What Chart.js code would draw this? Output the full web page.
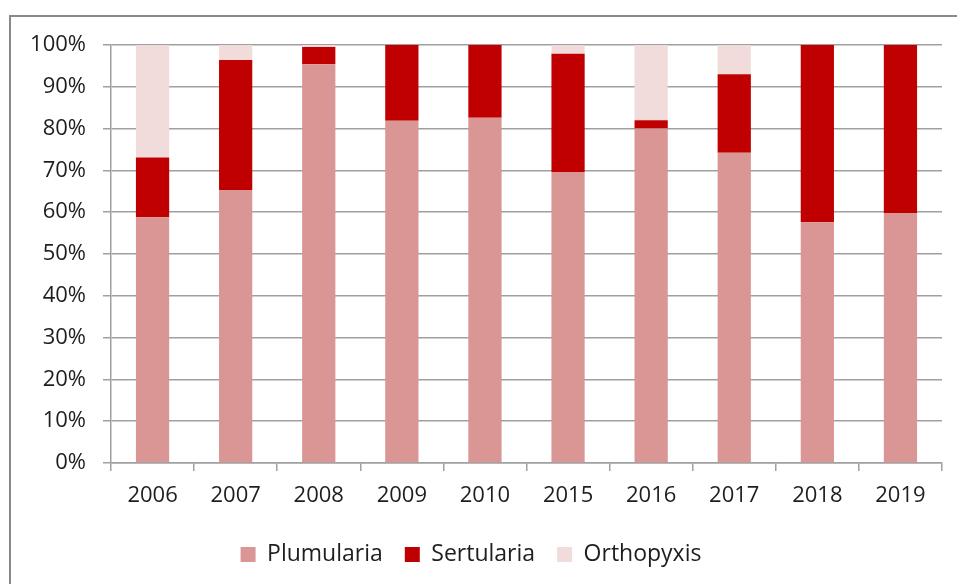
<!DOCTYPE html>
<html>
<head>
  <meta charset="UTF-8">
  <title>Plumularia / Sertularia / Orthopyxis</title>
  <script src="https://cdn.jsdelivr.net/npm/chart.js"></script>
  <style>
    body { margin: 0; background: #fff; overflow: hidden; }
    #frame { position: absolute; left: 9px; top: 15px; width: 1000px; height: 700px;
             border-top: 2px solid #898989; border-left: 2px solid #898989; }
    #wrap { position: absolute; left: 0; top: 0; width: 957px; height: 584px; }
  </style>
</head>
<body>
  <div id="frame"></div>
  <div id="wrap"><canvas id="chart" width="957" height="584"></canvas></div>

  <script>
    // share of each genus per year (%)
    const years = ['2006', '2007', '2008', '2009', '2010', '2015', '2016', '2017', '2018', '2019'];
    const plumularia = [58.8, 65.3, 95.4, 81.9, 82.6, 69.6, 80.0, 74.2, 57.6, 59.8];
    const sertularia = [14.3, 31.1, 4.1, 18.1, 17.4, 28.3, 2.0, 18.8, 42.4, 40.2];
    const orthopyxis = [26.9, 3.6, 0.5, 0, 0, 2.1, 18.0, 7.0, 0, 0];

    const gridColor = '#a0a0a0';
    const textColor = '#1e1e1e';
    Chart.defaults.font.family = '"Open Sans", sans-serif';
    Chart.defaults.font.size = 22;
    Chart.defaults.color = textColor;

    new Chart(document.getElementById('chart'), {
      type: 'bar',
      data: {
        labels: years,
        datasets: [
          { label: 'Plumularia', data: plumularia, backgroundColor: '#d99694' },
          { label: 'Sertularia', data: sertularia, backgroundColor: '#c00000' },
          { label: 'Orthopyxis', data: orthopyxis, backgroundColor: '#f2dcdb' }
        ]
      },
      options: {
        responsive: false,
        animation: false,
        datasets: { bar: { categoryPercentage: 1, barPercentage: 0.4 } },
        layout: { padding: { top: 45, right: 15, left: 0, bottom: 8 } },
        plugins: {
          tooltip: { enabled: false },
          legend: {
            position: 'bottom',
            labels: { boxWidth: 15, boxHeight: 15, padding: 22, color: textColor, font: { size: 23 } }
          }
        },
        scales: {
          x: {
            stacked: true,
            afterFit: s => { s.height = 58; },
            grid: { drawOnChartArea: false, color: gridColor, lineWidth: 1.5, tickLength: 8 },
            border: { color: gridColor, width: 1.5 },
            ticks: { padding: 12 }
          },
          y: {
            stacked: true,
            min: 0,
            max: 100,
            afterFit: s => { s.width = 111; },
            grid: { color: gridColor, lineWidth: 1.5, tickLength: 8 },
            border: { color: gridColor, width: 1.5 },
            ticks: { stepSize: 10, padding: 17, callback: v => v + '%' }
          }
        }
      }
    });
  </script>
</body>
</html>
